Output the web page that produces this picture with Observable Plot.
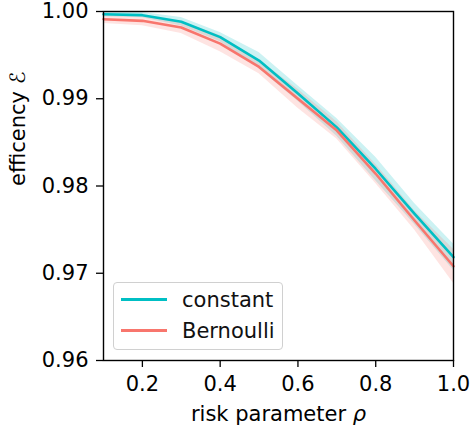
<!DOCTYPE html>
<html>
<head>
<meta charset="utf-8">
<script src="https://cdn.jsdelivr.net/npm/d3@7"></script>
<script src="https://cdn.jsdelivr.net/npm/@observablehq/plot@0.6"></script>
<style>
  html, body { margin: 0; padding: 0; background: white; }
  #wrap { position: relative; width: 471px; height: 432px; font-family: "DejaVu Sans", sans-serif; }
  #legend { position: absolute; left: 113px; top: 282px; width: 168px; height: 66px;
    border: 1px solid #d0d0d0; border-radius: 4px; background: rgba(255,255,255,0.8);
    font-size: 21px; color: #111; }
  .row { position: absolute; left: 0; height: 20px; }
  .swatch { position: absolute; left: 7px; width: 46px; height: 3px; }
  .lab { position: absolute; left: 68px; white-space: nowrap; line-height: 20px; }
</style>
</head>
<body>
<div id="wrap"></div>
<script>
const rho = [0.1, 0.2, 0.3, 0.4, 0.5, 0.6, 0.7, 0.8, 0.9, 1.0];
const constMean = [0.99969, 0.99958, 0.99882, 0.99706, 0.99438, 0.99060, 0.98672, 0.98195, 0.97680, 0.97184];
const constLow  = [0.99941, 0.99927, 0.99834, 0.99652, 0.99346, 0.98970, 0.98570, 0.98060, 0.97560, 0.97033];
const constHigh = [0.99997, 0.99989, 0.99930, 0.99760, 0.99530, 0.99150, 0.98775, 0.98330, 0.97800, 0.97335];
const bernMean  = [0.99912, 0.99893, 0.99817, 0.99632, 0.99365, 0.99000, 0.98636, 0.98140, 0.97605, 0.97080];
const bernLow   = [0.99862, 0.99836, 0.99748, 0.99540, 0.99286, 0.98890, 0.98540, 0.98030, 0.97495, 0.96885];
const bernHigh  = [0.99962, 0.99950, 0.99886, 0.99724, 0.99444, 0.99110, 0.98735, 0.98250, 0.97715, 0.97275];
const seriesNames = ["constant", "Bernoulli"];
const seriesColors = ["#00bfc4", "#f8766d"];
const xTicks = [0.2, 0.4, 0.6, 0.8, 1.0];
const yTicks = [0.96, 0.97, 0.98, 0.99, 1.00];
const xLabel = ["risk parameter ", "ρ"];
const yLabel = ["efficency ", "ℰ"];

const data = [];
rho.forEach((r, i) => {
  data.push({rho: r, s: seriesNames[0], mean: constMean[i], lo: constLow[i], hi: constHigh[i]});
});
rho.forEach((r, i) => {
  data.push({rho: r, s: seriesNames[1], mean: bernMean[i], lo: bernLow[i], hi: bernHigh[i]});
});
const bySeries = name => data.filter(d => d.s === name);

const chart = Plot.plot({
  width: 471,
  height: 432,
  marginLeft: 103,
  marginRight: 18,
  marginTop: 11,
  marginBottom: 72,
  style: {fontFamily: "DejaVu Sans, sans-serif", fontSize: "21px", color: "black", background: "white"},
  x: {domain: [0.1, 1.0]},
  y: {domain: [0.96, 1.0]},
  color: {domain: seriesNames, range: seriesColors},
  marks: [
    Plot.areaY(bySeries(seriesNames[0]), {x: "rho", y1: "lo", y2: "hi", fill: seriesColors[0], fillOpacity: 0.2}),
    Plot.areaY(bySeries(seriesNames[1]), {x: "rho", y1: "lo", y2: "hi", fill: seriesColors[1], fillOpacity: 0.2}),
    Plot.line(bySeries(seriesNames[0]), {x: "rho", y: "mean", stroke: seriesColors[0], strokeWidth: 2.6}),
    Plot.line(bySeries(seriesNames[1]), {x: "rho", y: "mean", stroke: seriesColors[1], strokeWidth: 2.6}),
    Plot.axisX({ticks: xTicks, tickSize: 7, tickPadding: 9, tickFormat: d => d.toFixed(1), label: null, strokeWidth: 1.3, fontSize: 21}),
    Plot.axisY({ticks: yTicks, tickSize: 7, tickPadding: 8, tickFormat: d => d.toFixed(2), label: null, strokeWidth: 1.3, fontSize: 21}),
    Plot.frame({stroke: "black", strokeWidth: 1.4}),
    Plot.text([xLabel.join("")], {frameAnchor: "bottom", dy: 60, lineAnchor: "bottom", text: d => d, fontSize: 21, fill: "black", className: "xlab"}),
    Plot.text([yLabel.join("")], {frameAnchor: "left", dx: -79, rotate: -90, lineAnchor: "bottom", text: d => d, fontSize: 21, fill: "black", className: "ylab"})
  ]
});
const wrap = document.getElementById("wrap");
wrap.appendChild(chart);

// italicise the math symbol in the x label
function styleLabel(cls, parts, italic) {
  const t = chart.querySelector("g." + cls + " text");
  if (!t) return;
  t.textContent = "";
  parts.forEach((p, i) => {
    const ts = document.createElementNS("http://www.w3.org/2000/svg", "tspan");
    ts.textContent = p;
    if (i === 1 && italic) ts.setAttribute("font-style", "italic");
    t.appendChild(ts);
  });
}
styleLabel("xlab", xLabel, true);
styleLabel("ylab", yLabel, false);

const legend = document.createElement("div");
legend.id = "legend";
const rowTops = [7, 38];
seriesNames.forEach((name, i) => {
  const row = document.createElement("div");
  row.className = "row";
  row.style.top = rowTops[i] + "px";
  const sw = document.createElement("div");
  sw.className = "swatch";
  sw.style.top = "8px";
  sw.style.background = seriesColors[i];
  const lab = document.createElement("div");
  lab.className = "lab";
  lab.textContent = name;
  row.appendChild(sw);
  row.appendChild(lab);
  legend.appendChild(row);
});
wrap.appendChild(legend);
</script>
</body>
</html>
